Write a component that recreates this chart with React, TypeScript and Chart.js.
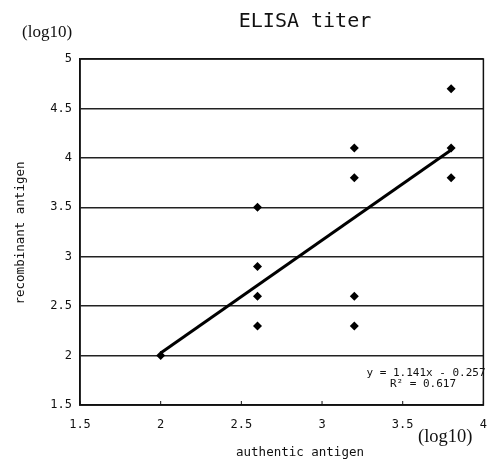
import React, { useEffect, useRef } from "react";
import { Chart, registerables } from "chart.js";

Chart.register(...registerables);

const authenticX = [2, 2.6, 2.6, 2.6, 2.6, 3.2, 3.2, 3.2, 3.2, 3.8, 3.8, 3.8];
const recombinantY = [2, 3.5, 2.9, 2.6, 2.3, 4.1, 3.8, 2.6, 2.3, 4.7, 4.1, 3.8];
const trendX = [2, 3.8];
const trendY = [2.025, 4.079];
const xTicks = [1.5, 2, 2.5, 3, 3.5, 4];
const yTicks = [1.5, 2, 2.5, 3, 3.5, 4, 4.5, 5];
const titleText = "ELISA titer";
const xTitle = "authentic antigen";
const yTitle = "recombinant antigen";
const unitText = "(log10)";
const eqLine1 = "y = 1.141x - 0.257";
const eqLine2 = "R² = 0.617";

const MONO = "'DejaVu Sans Mono', 'Liberation Mono', monospace";
const SERIF = "'Liberation Serif', 'DejaVu Serif', serif";

const CANVAS_W = 500;

const decorPlugin = {
  id: "decor",
  afterDraw(chart: any) {
    const ctx = chart.ctx;
    const ca = chart.chartArea;
    const xs = chart.scales.x;
    ctx.save();
    ctx.strokeStyle = "#111";
    ctx.lineWidth = 1.5;
    ctx.strokeRect(ca.left, ca.top, ca.right - ca.left, ca.bottom - ca.top);
    ctx.lineWidth = 1;
    xTicks.forEach((v) => {
      const px = xs.getPixelForValue(v);
      ctx.beginPath();
      ctx.moveTo(px, ca.bottom);
      ctx.lineTo(px, ca.bottom - 4);
      ctx.stroke();
    });
    ctx.fillStyle = "#111";
    ctx.font = `20px ${MONO}`;
    ctx.textAlign = "center";
    ctx.textBaseline = "middle";
    ctx.fillText(titleText, 305, 22);
    ctx.font = `17px ${SERIF}`;
    ctx.textAlign = "left";
    ctx.fillText(unitText, 22, 33);
    ctx.font = `18.5px ${SERIF}`;
    ctx.fillText(unitText, 418, 437);
    ctx.font = `12.5px ${MONO}`;
    ctx.textAlign = "center";
    ctx.fillText(xTitle, 300, 453);
    ctx.save();
    ctx.translate(21, 233);
    ctx.rotate(-Math.PI / 2);
    ctx.fillText(yTitle, 0, 0);
    ctx.restore();
    ctx.font = `11px ${MONO}`;
    ctx.textAlign = "center";
    ctx.fillText(eqLine1, 426, 373);
    ctx.fillText(eqLine2, 423, 384);
    ctx.restore();
  },
};

export default function App() {
  const ref = useRef<HTMLCanvasElement | null>(null);
  useEffect(() => {
    if (!ref.current) return;
    const points = authenticX.map((x, i) => ({ x, y: recombinantY[i] }));
    const trend = trendX.map((x, i) => ({ x, y: trendY[i] }));
    const chart = new Chart(ref.current, {
      type: "scatter",
      data: {
        datasets: [
          {
            type: "line",
            data: trend,
            borderColor: "#000",
            borderWidth: 3,
            pointRadius: 0,
            showLine: true,
            fill: false,
          } as any,
          {
            data: points,
            pointStyle: "rectRot",
            pointRadius: 4.5,
            backgroundColor: "#000",
            borderColor: "#000",
            borderWidth: 0,
          },
        ],
      },
      options: {
        animation: false,
        responsive: false,
        devicePixelRatio: 1,
        layout: { padding: { top: 59, right: CANVAS_W - 487 - 3.6, left: 0, bottom: 0 } },
        plugins: { legend: { display: false }, tooltip: { enabled: false }, title: { display: false } },
        scales: {
          x: {
            type: "linear",
            min: 1.5,
            max: 4,
            afterBuildTicks: (s: any) => {
              s.ticks = xTicks.map((v) => ({ value: v }));
            },
            afterFit: (s: any) => {
              s.height = 60;
            },
            ticks: {
              padding: 13,
              color: "#111",
              font: { family: MONO, size: 12 },
              maxRotation: 0,
              callback: (v: any) => String(v),
            },
            grid: { drawOnChartArea: false, drawTicks: false },
            border: { color: "#111", width: 1.5 },
          },
          y: {
            type: "linear",
            min: 1.5,
            max: 5,
            afterBuildTicks: (s: any) => {
              s.ticks = yTicks.map((v) => ({ value: v }));
            },
            afterFit: (s: any) => {
              s.width = 80;
            },
            ticks: {
              padding: 8,
              color: "#111",
              font: { family: MONO, size: 12 },
              callback: (v: any) => String(v),
            },
            grid: { color: "#222", lineWidth: 1.5, drawTicks: false },
            border: { color: "#111", width: 1.5 },
          },
        },
      },
      plugins: [decorPlugin],
    });
    return () => chart.destroy();
  }, []);
  return (
    <div style={{ position: "absolute", left: 0, top: 0, width: 489, height: 465, overflow: "hidden", background: "#fff" }}>
      <canvas ref={ref} width={CANVAS_W} height={465} style={{ width: CANVAS_W, height: 465, display: "block" }} />
    </div>
  );
}
